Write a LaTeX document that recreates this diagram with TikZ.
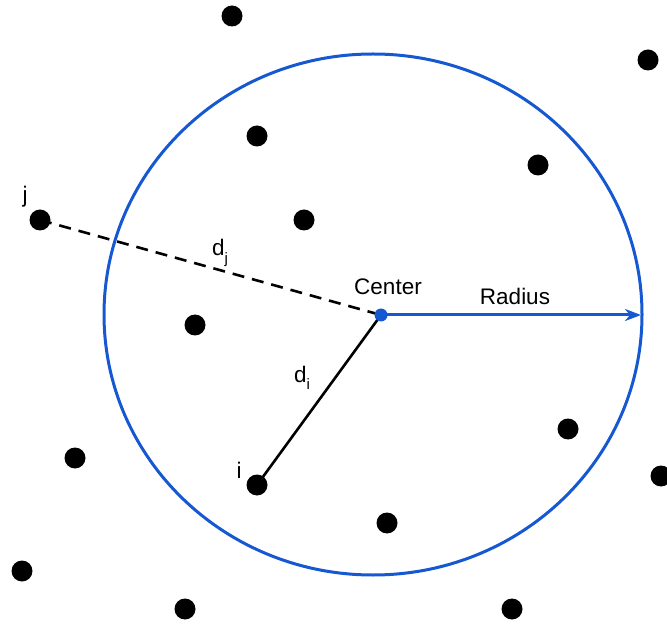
\documentclass[tikz,border=0pt]{standalone}
\usepackage{fontspec}
\setmainfont{Liberation Sans}
\usetikzlibrary{arrows.meta}
\definecolor{cblue}{RGB}{22,88,210}
\tikzset{
  pt/.style={circle,fill=black,inner sep=0pt,minimum size=21pt},
  cpt/.style={circle,fill=cblue,inner sep=0pt,minimum size=13pt},
  lbl/.style={anchor=base,inner sep=0pt,font=\fontsize{22.5pt}{26pt}\selectfont},
  conn/.style={line width=2.6pt,black},
}
\newcommand{\subtxt}[1]{\raisebox{-0.32em}{\fontsize{15pt}{17pt}\selectfont #1}}
\begin{document}
\begin{tikzpicture}[x=1pt,y=-1pt]
\useasboundingbox (0,0) rectangle (667,628);
% circle
\draw[cblue,line width=3pt] (373,314.5) ellipse [x radius=269,y radius=260.5];
% dots
\node[pt] (p1) at (232,16) {};
\node[pt] (p2) at (648,60) {};
\node[pt] (p3) at (257,136) {};
\node[pt] (p4) at (538,165) {};
\node[pt] (j) at (40,220) {};
\node[pt] (p6) at (304,220) {};
\node[pt] (p7) at (195,325) {};
\node[pt] (p8) at (75,458) {};
\node[pt] (p9) at (568,429) {};
\node[pt] (p10) at (661,476) {};
\node[pt] (i) at (257,485) {};
\node[pt] (p12) at (387,523) {};
\node[pt] (p13) at (22,571) {};
\node[pt] (p14) at (185,609) {};
\node[pt] (p15) at (512,609) {};
\coordinate (c) at (381,315);
\coordinate (redge) at (641,315);
% connectors
\draw[conn,dash pattern=on 12pt off 8pt] (j.center) -- (c);
\draw[conn] (i.center) -- (c);
\draw[cblue,line width=3pt,-{Stealth[length=16pt,width=12pt,inset=5pt]}] (c) -- (redge);
\node[cpt] (center) at (c) {};
% labels
\node[lbl] (lj) at (25,203) {j};
\node[lbl] (ldj) at (220,256) {d\subtxt{j}};
\node[lbl] (lcenter) at (388,295) {Center};
\node[lbl] (lradius) at (515,305) {Radius};
\node[lbl] (ldi) at (302,382) {d\subtxt{i}};
\node[lbl] (li) at (239,478) {i};
\end{tikzpicture}
\end{document}
